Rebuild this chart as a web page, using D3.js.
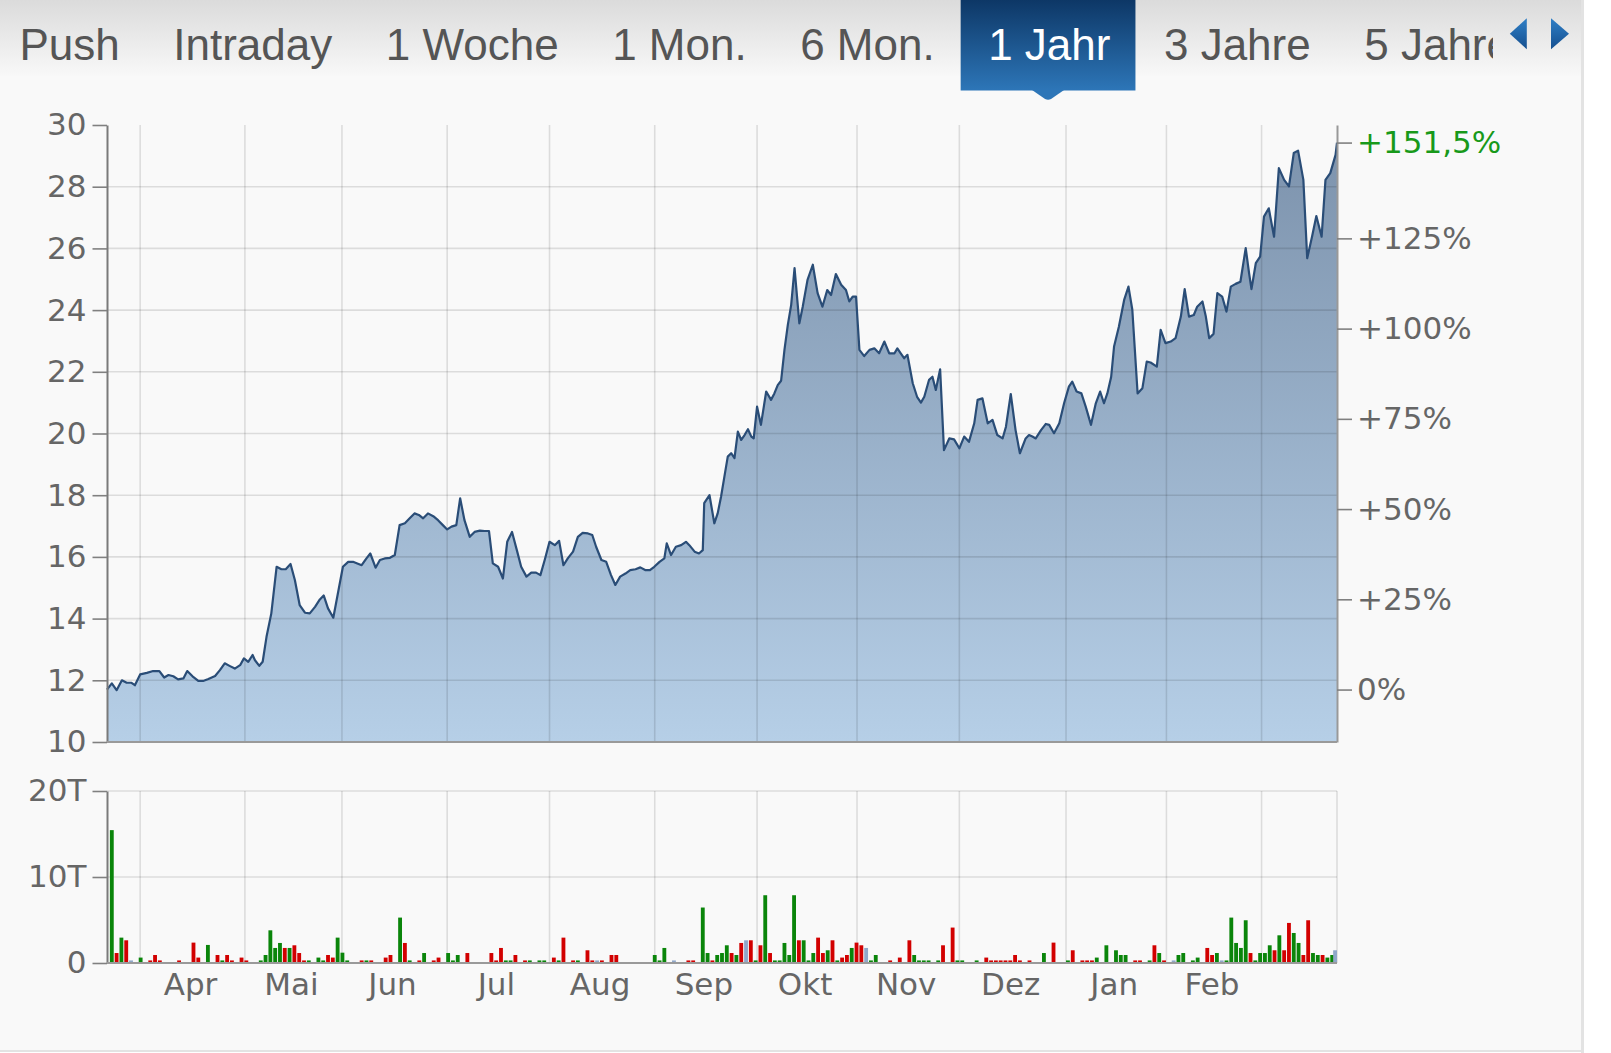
<!DOCTYPE html>
<html><head><meta charset="utf-8">
<script src="https://cdn.jsdelivr.net/npm/d3@7"></script>
<style>
html,body{margin:0;padding:0;background:#ffffff;}
svg{display:block;}
</style></head><body>
<svg id="chart" width="1611" height="1053"></svg>
<script>
// ---------------- data ----------------
const tabs = ["Push","Intraday","1 Woche","1 Mon.","6 Mon.","1 Jahr","3 Jahre","5 Jahre"];
const activeTab = "1 Jahr";
const monthLabels = ["Apr","Mai","Jun","Jul","Aug","Sep","Okt","Nov","Dez","Jan","Feb"];
// trading-day position at which each month starts (Apr ... Mar)
const monthStartDay = [6.9, 28.7, 48.9, 70.8, 92.1, 114.0, 135.3, 156.1, 177.4, 199.6, 220.5, 240.3];
const priceTicks = [10,12,14,16,18,20,22,24,26,28,30];
const pctTicks = [0,25,50,75,100,125];
const volumeTicks = [0,10,20];
const lastDay = 256;

const priceDay = [0,1.0,2.0,3.1,4.1,5.1,5.8,6.9,8.3,9.6,10.9,11.9,12.8,13.8,14.8,15.9,16.7,17.8,19.0,20.0,21.1,22.5,23.5,24.5,25.6,26.6,27.7,28.5,29.4,30.3,30.8,31.7,32.4,33.2,34.2,35.3,36.3,37.2,38.2,39.1,40.1,41.2,42.2,43.3,44.3,45.1,46.0,47.1,49.1,50.2,51.2,53.0,54.0,54.8,55.9,56.8,57.8,58.9,59.9,60.9,62.0,63.0,
64.0,64.9,65.8,66.8,67.9,68.9,69.9,70.8,71.7,72.7,73.5,74.4,75.5,76.5,77.6,78.6,79.5,80.3,81.4,82.4,83.3,84.3,85.3,86.2,87.3,88.3,89.3,90.2,91.1,92.1,93.2,94.1,95.0,95.9,97.0,98.0,99.0,100.1,101.0,101.8,102.9,103.9,104.9,105.8,106.8,107.9,108.9,110.0,111.0,112.1,113.0,113.9,115.0,116.0,116.5,117.4,118.4,119.5,120.5,121.2,122.3,123.2,124.0,124.3,125.4,126.4,
127.1,127.8,128.5,129.2,129.9,130.6,131.3,132.0,132.7,133.4,134.1,134.6,135.3,136.1,137.2,138.2,138.9,139.6,140.3,141.0,141.7,142.4,143.1,144.1,144.8,145.8,146.9,147.9,148.9,149.9,150.7,151.7,152.8,153.8,154.5,155.2,155.9,156.6,157.6,158.7,159.7,160.7,161.8,162.8,163.9,164.5,165.2,165.9,166.6,167.7,168.6,169.4,170.1,171.1,171.8,172.5,173.4,174.2,175.3,176.3,177.4,178.4,179.4,180.5,181.2,182.2,183.3,184.3,185.3,186.4,187.1,188.1,189.1,190.0,191.2,
191.9,192.6,193.3,194.4,195.4,196.1,197.1,198.2,199.2,200.2,200.9,201.8,202.8,203.7,204.8,205.8,206.7,207.5,208.2,209.0,209.6,210.6,211.7,212.6,213.4,214.5,215.5,216.4,217.2,218.5,219.3,220.3,221.4,222.4,223.5,224.3,225.2,226.2,226.9,228.0,228.7,229.4,230.3,231.1,232.1,233.0,233.9,234.9,235.9,237.0,237.7,238.2,239.1,240.0,240.8,241.8,242.9,243.9,245.0,246.0,247.0,247.9,249.0,249.8,250.8,251.7,252.8,253.6,254.6,255.7,256.0];
const priceClose = [11.70,11.90,11.68,12.00,11.92,11.92,11.84,12.19,12.24,12.30,12.30,12.09,12.17,12.13,12.03,12.06,12.30,12.13,11.98,11.98,12.04,12.14,12.33,12.55,12.46,12.38,12.49,12.71,12.60,12.82,12.65,12.47,12.60,13.41,14.17,15.68,15.60,15.60,15.77,15.25,14.44,14.19,14.17,14.38,14.62,14.75,14.33,14.03,15.68,15.84,15.84,15.73,15.95,16.11,15.65,15.90,15.95,15.97,16.06,17.03,17.09,17.25,
17.41,17.36,17.25,17.41,17.32,17.19,17.03,16.89,16.98,17.03,17.90,17.19,16.65,16.81,16.85,16.84,16.84,15.79,15.68,15.30,16.49,16.81,16.22,15.68,15.36,15.49,15.49,15.41,15.90,16.49,16.38,16.52,15.73,15.95,16.17,16.65,16.78,16.76,16.71,16.33,15.90,15.84,15.41,15.09,15.36,15.46,15.57,15.60,15.66,15.57,15.57,15.68,15.84,15.95,16.44,16.06,16.33,16.38,16.49,16.38,16.17,16.11,16.22,17.74,18.00,17.09,
17.41,17.95,18.60,19.25,19.36,19.20,20.06,19.79,19.95,20.14,19.90,19.84,20.87,20.28,21.36,21.09,21.30,21.57,21.71,22.71,23.52,24.17,25.36,23.57,24.11,24.98,25.47,24.55,24.11,24.65,24.49,25.17,24.82,24.65,24.28,24.44,24.44,22.71,22.51,22.71,22.76,22.60,22.98,22.60,22.60,22.76,22.60,22.44,22.55,21.63,21.19,21.00,21.19,21.74,21.84,21.41,22.08,19.46,19.84,19.81,19.52,19.90,19.73,20.33,21.09,21.14,20.33,20.44,19.95,19.84,20.22,21.28,20.11,19.36,19.84,
19.95,19.90,19.84,20.11,20.31,20.28,20.01,20.33,20.98,21.52,21.68,21.36,21.30,20.87,20.28,20.98,21.36,20.98,21.30,21.84,22.82,23.46,24.33,24.76,24.01,21.30,21.47,22.33,22.30,22.17,23.36,22.93,22.98,23.09,23.79,24.68,23.79,23.84,24.11,24.28,23.79,23.09,23.23,24.55,24.44,23.95,24.76,24.85,24.92,26.01,25.20,24.68,25.52,25.73,27.03,27.30,26.38,28.60,28.22,28.01,29.09,29.17,28.22,25.68,26.38,27.05,26.38,28.22,28.44,29.03,29.43];

// volume in thousands (T), per trading day; direction u = up, d = down, n = unchanged
const volumeDay = [1,2,3,4,5,7,9,10,11,15,18,19,21,23,24,25,26,28,29,32,33,34,35,36,37,38,39,40,41,42,44,45,46,47,48,49,50,53,54,55,58,59,61,62,63,65,66,68,69,71,72,73,75,80,81,82,83,84,85,87,88,90,91,93,94,95,97,98,100,101,102,103,105,106,114,115,116,118,121,122,124,125,126,127,
128,129,130,131,132,133,134,135,136,137,138,139,140,141,142,143,144,145,146,147,148,149,150,151,152,153,154,155,156,157,158,159,160,163,165,167,168,169,170,171,173,174,176,177,178,181,183,184,185,186,187,188,189,190,192,195,197,200,201,203,204,205,206,208,210,211,212,214,215,217,218,219,220,222,223,224,226,227,229,230,231,232,233,
234,235,236,237,238,239,240,241,242,243,244,245,246,247,248,249,250,251,252,253,254,255,256];
const volumeK = [15.45,1.16,2.95,2.64,0.3,0.63,0.3,0.93,0.3,0.3,2.37,0.63,2.1,0.93,0.3,0.93,0.3,0.63,0.3,0.3,0.93,3.8,1.75,2.33,1.75,1.75,2.06,1.16,0.3,0.3,0.63,0.3,0.93,0.63,2.95,1.2,0.3,0.3,0.3,0.3,0.63,0.93,5.28,2.33,0.3,0.3,1.16,0.3,0.63,1.16,0.3,0.93,1.16,1.16,0.3,1.75,0.3,0.3,0.93,0.3,0.3,0.3,0.3,0.63,0.3,2.95,0.3,0.3,1.48,0.3,0.3,0.3,0.93,0.93,0.93,0.3,1.75,0.3,0.3,0.3,6.45,1.16,0.3,0.93,
1.16,2.06,1.16,0.93,2.33,2.64,2.64,0.3,2.06,7.88,1.16,0.3,0.3,2.33,0.93,7.88,2.64,2.64,0.3,1.16,2.95,1.16,1.48,2.64,0.3,0.63,0.93,1.75,2.37,2.06,1.75,0.3,0.93,0.3,0.63,2.64,0.93,0.3,0.3,0.3,0.3,2.06,4.12,0.3,0.3,0.3,0.63,0.3,0.3,0.3,0.3,0.3,0.93,0.3,0.3,1.16,2.37,0.3,1.48,0.3,0.3,0.3,0.63,2.06,1.48,0.93,0.93,0.3,0.3,0.3,2.06,1.16,0.3,0.3,0.93,1.16,0.3,0.63,1.75,0.93,1.16,0.3,0.3,
5.28,2.33,1.75,4.97,1.16,0.3,1.16,1.16,2.06,1.48,3.22,1.48,4.66,3.49,2.33,0.93,4.97,1.16,0.93,0.93,0.63,0.93,1.48];
const volumeDir = ["u","d","u","d","n","u","d","d","d","d","d","d","u","d","u","d","d","d","d","u","u","u","u","u","d","u","d","d","d","u","u","u","d","d","u","u","u","d","u","d","d","d","u","d","u","d","u","d","d","u","u","u","d","d","d","d","u","u","d","d","u","u","u","d","u","d","d","u","d","d","n","d","d","d","u","u","u","n","d","d","u","u","d","u",
"u","u","d","u","d","n","d","u","d","u","d","u","u","u","u","u","d","u","u","u","d","d","u","d","u","d","d","u","d","d","n","u","u",
"d","d","d","u","u","u","u","u","d","d",
"u","u","u","d","d","d","d","d","d","d",
"d","d","u","d","u","d","d","d","d","u",
"u","u","u","u","d","d","u","d","u","d",
"n","u","u","u","u","d","d","u","n","u",
"u","u","u","u","d","u","u","u","u","d","u","d","d","u","u","d","d","u","u","d","u","u","n"];

// ---------------- drawing ----------------
const svg = d3.select("#chart");
const W = 1611, H = 1053;
const panelRight = 1582;

const defs = svg.append("defs");
const tabGrad = defs.append("linearGradient").attr("id","tabBar").attr("x1",0).attr("y1",0).attr("x2",0).attr("y2",1);
tabGrad.append("stop").attr("offset","0%").attr("stop-color","#dbdbdb");
tabGrad.append("stop").attr("offset","100%").attr("stop-color","#f8f8f8");
const actGrad = defs.append("linearGradient").attr("id","activeTab").attr("x1",0).attr("y1",0).attr("x2",0).attr("y2",1);
actGrad.append("stop").attr("offset","0%").attr("stop-color","#0d3766");
actGrad.append("stop").attr("offset","100%").attr("stop-color","#2d76b8");
const arrGrad = defs.append("linearGradient").attr("id","arrowGrad").attr("x1",0).attr("y1",0).attr("x2",0).attr("y2",1);
arrGrad.append("stop").attr("offset","0%").attr("stop-color","#2f7fc6");
arrGrad.append("stop").attr("offset","100%").attr("stop-color","#154f8f");
defs.append("clipPath").attr("id","tabClip").append("rect").attr("x",0).attr("y",0).attr("width",1493).attr("height",110);

// backgrounds
svg.append("rect").attr("x",0).attr("y",0).attr("width",W).attr("height",H).attr("fill","#ffffff");
svg.append("rect").attr("x",0).attr("y",0).attr("width",panelRight).attr("height",1050).attr("fill","#f9f9f9");
svg.append("rect").attr("x",0).attr("y",0).attr("width",panelRight).attr("height",76).attr("fill","url(#tabBar)");
svg.append("line").attr("x1",panelRight+0.5).attr("x2",panelRight+0.5).attr("y1",0).attr("y2",H).attr("stroke","#e3e3e3").attr("stroke-width",3);
svg.append("line").attr("x1",0).attr("x2",panelRight).attr("y1",1051).attr("y2",1051).attr("stroke","#e3e3e3").attr("stroke-width",2);

// tabs
const tabG = svg.append("g").attr("clip-path","url(#tabClip)");
let tx = 19.5;
tabs.forEach(t => {
  const isActive = t === activeTab;
  const txt = tabG.append("text").attr("x",tx).attr("y",60)
    .attr("font-family","'Liberation Sans', Arial, sans-serif").attr("font-size",44)
    .attr("fill", isActive ? "#ffffff" : "#555555").text(t);
  const w = txt.node().getComputedTextLength();
  if (isActive) {
    const bx = tx - 27.5, bw = w + 52.5;
    tabG.insert("rect", "text").attr("x",bx).attr("y",0).attr("width",bw).attr("height",90.5).attr("fill","url(#activeTab)");
    const cx = bx + bw/2;
    tabG.insert("path","text").attr("d",`M${cx-16},90 L${cx+16},90 L${cx+3},99 Q${cx},100.5 ${cx-3},99 Z`).attr("fill","#2d76b8");
  }
  tx += w + 53.5;
});
svg.append("path").attr("d","M1526.8,18.3 L1526.8,49.3 L1509.8,33.8 Z").attr("fill","url(#arrowGrad)");
svg.append("path").attr("d","M1551,18.3 L1551,49.3 L1569,33.8 Z").attr("fill","url(#arrowGrad)");

// scales
const x = d3.scaleLinear().domain([0,lastDay]).range([107,1337]);
const y = d3.scaleLinear().domain([10,30]).range([742,125]);
const yv = d3.scaleLinear().domain([0,20]).range([963,791]);
const base = priceClose[0];
const yp = d3.scaleLinear().domain([(10/base-1)*100,(30/base-1)*100]).range([742,125]);
const de = d3.formatLocale({decimal:",",thousands:".",grouping:[3],currency:["","€"]});

const fontAxis = "'DejaVu Sans', Verdana, sans-serif";
const gridColor = "rgba(0,0,0,0.115)";

// area + line
const series = priceDay.map((d,i)=>({d, p: priceClose[i]}));
const areaGrad = defs.append("linearGradient").attr("id","areaGrad").attr("gradientUnits","userSpaceOnUse")
  .attr("x1",0).attr("x2",0).attr("y1",y(30)).attr("y2",y(10));
areaGrad.append("stop").attr("offset","0%").attr("stop-color","#7b91ab");
areaGrad.append("stop").attr("offset","100%").attr("stop-color","#b6cfe7");
svg.append("path").datum(series)
  .attr("d", d3.area().x(v=>x(v.d)).y0(y(10)).y1(v=>y(v.p)))
  .attr("fill","url(#areaGrad)");

// grid (price)
svg.append("g").selectAll("line").data(priceTicks.filter(v=>v>10 && v<30)).join("line")
  .attr("x1",x(0)).attr("x2",x(lastDay)).attr("y1",v=>y(v)).attr("y2",v=>y(v))
  .attr("stroke",gridColor).attr("stroke-width",1.6);
svg.append("g").selectAll("line").data(monthStartDay).join("line")
  .attr("x1",v=>x(v)).attr("x2",v=>x(v)).attr("y1",y(30)).attr("y2",y(10))
  .attr("stroke",gridColor).attr("stroke-width",1.6);

svg.append("path").datum(series)
  .attr("d", d3.line().x(v=>x(v.d)).y(v=>y(v.p)))
  .attr("fill","none").attr("stroke","#2a4d77").attr("stroke-width",2.2).attr("stroke-linejoin","round");

// price axes
function styleAxis(g, domainColor){
  g.selectAll("text").attr("font-family",fontAxis).attr("font-size",31).attr("fill","#666");
  g.selectAll(".tick line").attr("stroke","#808080").attr("stroke-width",1.6);
  g.select(".domain").attr("stroke",domainColor).attr("stroke-width",2);
}
const gL = svg.append("g").attr("transform",`translate(${x(0)},0)`)
  .call(d3.axisLeft(y).tickValues(priceTicks).tickSize(14.5).tickSizeOuter(0).tickPadding(6).tickFormat(d3.format("d")));
styleAxis(gL,"#7a7a7a");

const lastPct = (priceClose[priceClose.length-1]/base - 1)*100;
const pctFmt = v => v === 0 ? "0%" : (v>0?"+":"") + (Number.isInteger(v) ? v : de.format(".1f")(v)) + "%";
const gR = svg.append("g").attr("transform",`translate(${x(lastDay)},0)`)
  .call(d3.axisRight(yp).tickValues([...pctTicks, lastPct]).tickSize(15).tickSizeOuter(0).tickPadding(5).tickFormat(pctFmt));
styleAxis(gR,"#999");
gR.selectAll(".tick").filter(v=>v===lastPct).select("text").attr("fill","#18991a");

svg.append("line").attr("x1",x(0)).attr("x2",x(lastDay)).attr("y1",y(10)).attr("y2",y(10)).attr("stroke","#9a9a9a").attr("stroke-width",2);

// volume panel
svg.append("g").selectAll("line").data(volumeTicks.filter(v=>v>0)).join("line")
  .attr("x1",x(0)).attr("x2",x(lastDay)).attr("y1",v=>yv(v)).attr("y2",v=>yv(v))
  .attr("stroke",gridColor).attr("stroke-width",1.6);
svg.append("g").selectAll("line").data(monthStartDay).join("line")
  .attr("x1",v=>x(v)).attr("x2",v=>x(v)).attr("y1",yv(20)).attr("y2",yv(0))
  .attr("stroke",gridColor).attr("stroke-width",1.6);
svg.append("line").attr("x1",x(lastDay)).attr("x2",x(lastDay)).attr("y1",yv(20)).attr("y2",yv(0)).attr("stroke",gridColor).attr("stroke-width",1.6);

const dirColor = {u:"#0a850a", d:"#d20000", n:"#8fa7c9"};
const bw = (x(1)-x(0))*0.8;
svg.append("g").selectAll("rect").data(volumeDay.map((d,i)=>({d, v: volumeK[i], c: volumeDir[i]}))).join("rect")
  .attr("x",v=>Math.min(x(v.d)-bw/2, x(lastDay)-bw))
  .attr("width",bw)
  .attr("y",v=>yv(v.v)).attr("height",v=>yv(0)-yv(v.v))
  .attr("fill",v=>dirColor[v.c] || "#8fa7c9");

const gV = svg.append("g").attr("transform",`translate(${x(0)},0)`)
  .call(d3.axisLeft(yv).tickValues(volumeTicks).tickSize(14.5).tickSizeOuter(0).tickPadding(6).tickFormat(v=>v===0?"0":v+"T"));
styleAxis(gV,"#7a7a7a");
svg.append("line").attr("x1",x(0)).attr("x2",x(lastDay)).attr("y1",yv(0)).attr("y2",yv(0)).attr("stroke","#9a9a9a").attr("stroke-width",2);

// month labels, centred in each month
svg.append("g").selectAll("text").data(monthLabels).join("text")
  .attr("x",(m,i)=>x((monthStartDay[i]+monthStartDay[i+1])/2)-2)
  .attr("y",994.5).attr("text-anchor","middle")
  .attr("font-family",fontAxis).attr("font-size",31).attr("fill","#666")
  .text(m=>m);
</script>
</body></html>
